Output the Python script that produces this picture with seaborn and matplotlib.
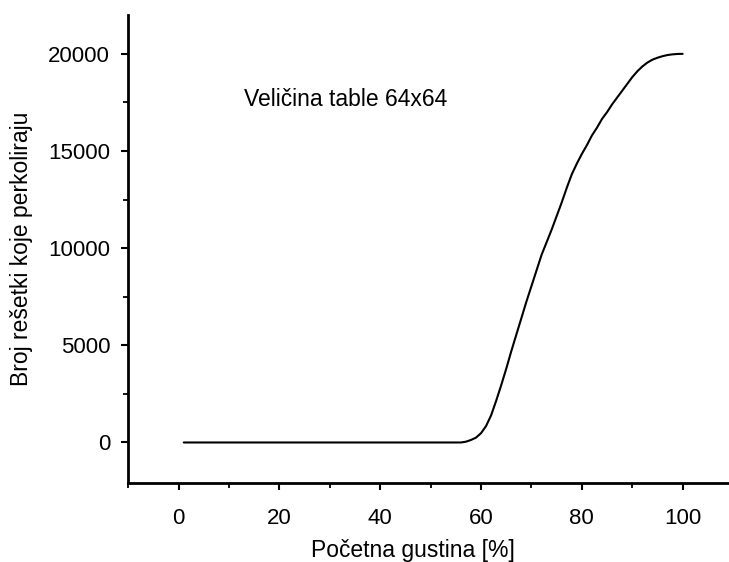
import matplotlib
matplotlib.use("Agg")
import matplotlib.pyplot as plt
from matplotlib.ticker import MultipleLocator
import seaborn as sns
import pandas as pd

# Data
density = [1, 10, 20, 30, 40, 50, 55, 56, 57, 58, 59, 60, 61, 62, 63, 64, 65, 66, 67, 68, 69,
           70, 71, 72, 73, 74, 75, 76, 77, 78, 79, 80, 81, 82, 83, 84, 85, 86, 87, 88, 89,
           90, 91, 92, 93, 94, 95, 96, 97, 98, 99, 100]
percolating = [0, 0, 0, 0, 0, 0, 0, 0, 40, 130, 250, 480, 850, 1400, 2150, 2950, 3800, 4700,
               5550, 6400, 7250, 8050, 8850, 9650, 10300, 10950, 11650, 12350, 13100, 13800,
               14350, 14850, 15300, 15800, 16200, 16650, 17000, 17400, 17750, 18100, 18450,
               18800, 19100, 19350, 19550, 19700, 19800, 19880, 19940, 19975, 19995, 20000]
x_ticks = [0, 20, 40, 60, 80, 100]
y_ticks = [0, 5000, 10000, 15000, 20000]
annotation = "Veličina table 64x64"
x_label = "Početna gustina [%]"
y_label = "Broj rešetki koje perkoliraju"

df = pd.DataFrame({"x": density, "y": percolating})

sns.set_style("ticks")
plt.rcParams["font.family"] = ["Liberation Sans", "DejaVu Sans"]
plt.rcParams["text.color"] = "black"
plt.rcParams["axes.labelcolor"] = "black"
plt.rcParams["xtick.color"] = "black"
plt.rcParams["ytick.color"] = "black"
plt.rcParams["axes.edgecolor"] = "black"

fig = plt.figure(figsize=(7.29, 5.62), dpi=100)
ax = fig.add_axes([128.3 / 729, 1 - 482.7 / 562, 1 - 128.3 / 729, (482.7 - 15) / 562])

sns.lineplot(data=df, x="x", y="y", ax=ax, color="black", linewidth=1.5)

ax.set_xlim(-10, 109.2)
ax.set_ylim(-2070, 22000)
ax.set_xticks(x_ticks)
ax.set_yticks(y_ticks)
ax.xaxis.set_minor_locator(MultipleLocator(10))
ax.yaxis.set_minor_locator(MultipleLocator(2500))

sns.despine(ax=ax)
for s in ["left", "bottom"]:
    ax.spines[s].set_linewidth(2.0)
ax.tick_params(which="major", length=5, width=1.5, labelsize=16, color="black", labelcolor="black")
ax.tick_params(axis="y", which="major", pad=8)
ax.tick_params(axis="x", which="major", pad=13)
ax.tick_params(which="minor", length=3.5, width=1.3, color="black")

ax.set_xlabel(x_label, fontsize=16.5, labelpad=9)
ax.xaxis.set_label_coords(0.474, -0.12)
ax.set_ylabel(y_label, fontsize=16.5, labelpad=11)

ax.text(13.0, 17630, annotation, fontsize=16.5, va="center", ha="left")

fig.savefig("out.png", dpi=100)
